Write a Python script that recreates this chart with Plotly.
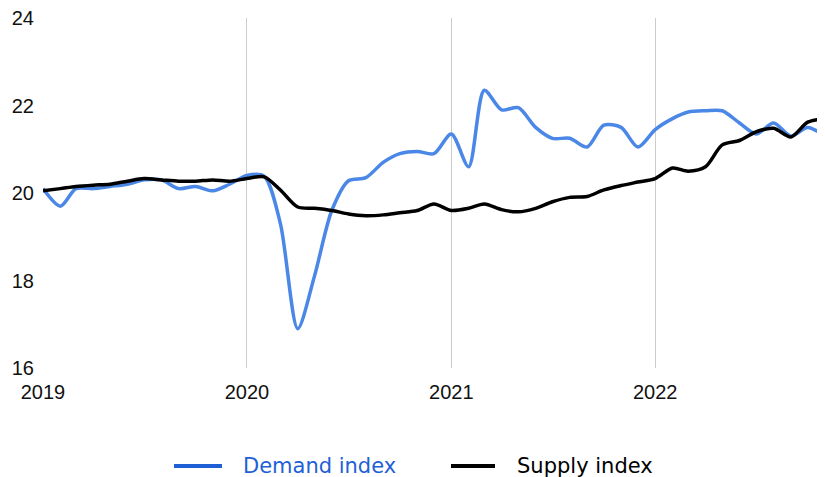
import plotly.graph_objects as go
import pandas as pd

months = pd.date_range("2019-01-01", "2022-11-01", freq="MS").strftime("%Y-%m-%d").tolist()

demand = [20.1, 19.7, 20.1, 20.1, 20.15, 20.2, 20.3, 20.3, 20.1, 20.15, 20.05, 20.2,
          20.4, 20.38, 19.3, 16.9, 18.1, 19.6, 20.28, 20.35, 20.7, 20.9, 20.95, 20.9,
          21.35, 20.6, 22.35, 21.9, 21.95, 21.5, 21.25, 21.25, 21.05, 21.55, 21.5, 21.05,
          21.45, 21.7, 21.85, 21.88, 21.88, 21.6, 21.35, 21.6, 21.3, 21.5, 21.3]

supply = [20.05, 20.1, 20.15, 20.18, 20.2, 20.27, 20.33, 20.3, 20.27, 20.27, 20.3, 20.27,
          20.33, 20.37, 20.07, 19.68, 19.65, 19.6, 19.52, 19.48, 19.5, 19.55, 19.6, 19.75,
          19.6, 19.65, 19.75, 19.62, 19.57, 19.65, 19.8, 19.9, 19.92, 20.07, 20.17, 20.25,
          20.33, 20.57, 20.5, 20.6, 21.1, 21.2, 21.4, 21.48, 21.28, 21.62, 21.7]

series_names = ["Demand index", "Supply index"]
year_ticks = ["2019-01-01", "2020-01-01", "2021-01-01", "2022-01-01"]
year_labels = ["2019", "2020", "2021", "2022"]
y_ticks = [16, 18, 20, 22, 24]

line_colors = ["#4a87e6", "#000000"]
legend_colors = ["#1f5fd6", "#000000"]

# page body has an 8px margin: figure is sized so it fills the 825x477 window
OFF = 8
W, H = 825 - OFF, 477 - OFF
ML, MR, MT, MB = 43 - OFF, 0, 18 - OFF, 477 - 368
PW, PH = W - ML - MR, H - MT - MB


def px_x(p):
    return (p - OFF - ML) / PW


def px_y(p):
    return (H - MB - (p - OFF)) / PH


fig = go.Figure()
fig.add_trace(go.Scatter(
    x=months, y=demand, mode="lines", name=series_names[0],
    line=dict(color=line_colors[0], width=3.5, shape="spline", smoothing=0.8),
))
fig.add_trace(go.Scatter(
    x=months, y=supply, mode="lines", name=series_names[1],
    line=dict(color=line_colors[1], width=3.5, shape="spline", smoothing=0.8),
))

# manual legend (samples + labels), positions in window pixels
legend_y = 466
legend_items = [(174, 222, 242), (451, 495, 516)]
shapes = []
annotations = []
for (x0, x1, tx), name, col in zip(legend_items, series_names, legend_colors):
    shapes.append(dict(type="line", xref="paper", yref="paper",
                       x0=px_x(x0), x1=px_x(x1), y0=px_y(legend_y), y1=px_y(legend_y),
                       line=dict(color=col, width=4)))
    annotations.append(dict(xref="paper", yref="paper", x=px_x(tx), y=px_y(legend_y),
                            xanchor="left", yanchor="middle", showarrow=False, borderpad=0,
                            text=name, font=dict(family="DejaVu Sans, sans-serif", size=21, color=col)))

fig.update_layout(
    width=W, height=H,
    margin=dict(l=ML, r=MR, t=MT, b=MB),
    plot_bgcolor="white", paper_bgcolor="white",
    font=dict(family="Liberation Sans, Arial, sans-serif", size=20, color="#111"),
    showlegend=False,
    shapes=shapes,
    annotations=annotations,
    xaxis=dict(
        range=["2019-01-01", "2022-11-01"],
        tickvals=year_ticks, ticktext=year_labels,
        showgrid=True, gridcolor="#cccccc", gridwidth=1,
        showline=False, zeroline=False, ticks="",
        tickfont=dict(size=20, color="#111"),
        automargin=False, ticklabelstandoff=10, ticklabeloverflow="allow",
    ),
    yaxis=dict(
        range=[16, 24], tickvals=y_ticks,
        showgrid=False, zeroline=False, showline=False, ticks="",
        tickfont=dict(size=20, color="#111"),
        automargin=False, ticklabelstandoff=8, ticklabeloverflow="allow",
    ),
)

fig.write_html("out.html")
